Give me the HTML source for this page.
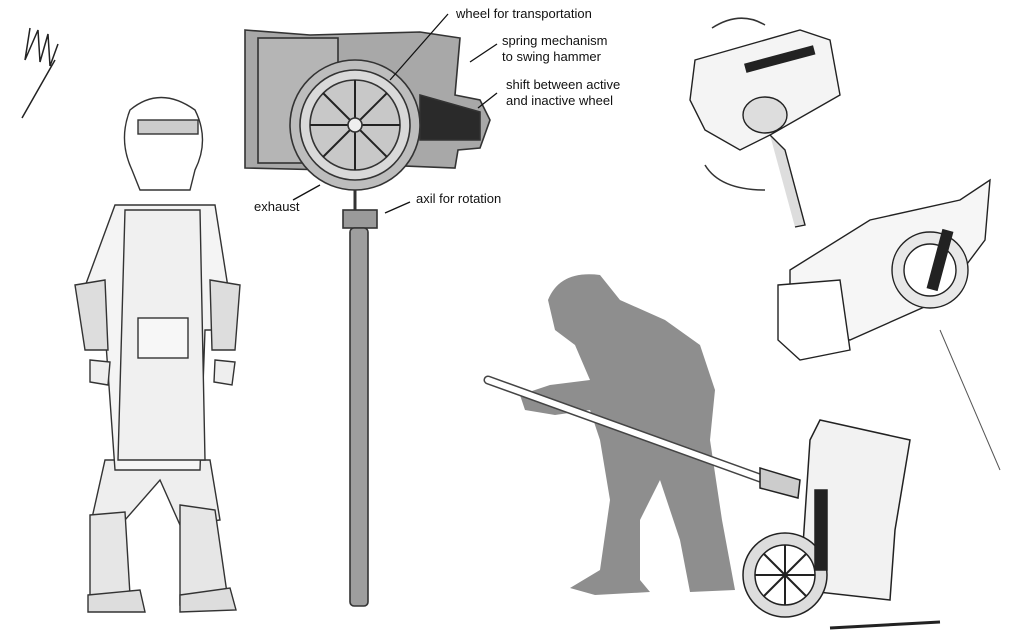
<!DOCTYPE html>
<html><head><meta charset="utf-8"><style>
html,body{margin:0;padding:0;background:#fff;}
svg{display:block;}
text{font-family:"Liberation Sans","DejaVu Sans",sans-serif;font-size:13px;fill:#111;}
</style></head><body>
<svg width="1022" height="643" viewBox="0 0 1022 643" xmlns="http://www.w3.org/2000/svg">
<rect width="1022" height="643" fill="#fff"/>
<path d="M30 28 L25 60 L38 30 L40 62 L48 34 L50 66 L58 44 M55 60 L22 118" stroke="#222" stroke-width="1.5" fill="none"/>

<g stroke="#333" stroke-width="1.4" fill="#f4f4f4">
 <path d="M105 460 L210 460 L220 520 L180 525 L160 480 L125 520 L92 518Z" fill="#eee"/>
 <path d="M130 110 Q160 85 195 110 Q210 140 195 170 L190 190 L140 190 L132 170 Q118 140 130 110Z" fill="#fff"/>
 <rect x="138" y="120" width="60" height="14" fill="#ccc"/>
 <path d="M115 205 L215 205 L230 300 L225 330 L205 330 L200 470 L115 470 L105 330 L85 330 L80 300Z"/>
 <path d="M125 210 L200 210 L205 460 L118 460Z" fill="#f0f0f0"/>
 <rect x="138" y="318" width="50" height="40" fill="#f7f7f7"/>
 <path d="M75 285 L105 280 L108 350 L85 350Z" fill="#ddd"/>
 <path d="M210 280 L240 285 L235 350 L212 350Z" fill="#ddd"/>
 <path d="M90 360 L110 362 L108 385 L90 382Z" fill="#eee"/>
 <path d="M215 360 L235 362 L232 385 L214 382Z" fill="#eee"/>
 <path d="M90 515 L125 512 L130 595 L90 610Z" fill="#e6e6e6"/>
 <path d="M180 505 L215 510 L228 600 L180 605Z" fill="#e6e6e6"/>
 <path d="M88 595 L140 590 L145 612 L88 612Z" fill="#ddd"/>
 <path d="M180 595 L230 588 L236 610 L180 612Z" fill="#ddd"/>
</g>

<g stroke="#333" stroke-width="1.6">
 <path d="M245 30 L310 35 L420 32 L460 38 L455 95 L480 100 L490 120 L480 148 L458 150 L455 168 L380 165 L330 170 L245 168 Z" fill="#a8a8a8"/>
 <rect x="258" y="38" width="80" height="125" fill="#b5b5b5"/>
 <path d="M420 95 L480 112 L480 140 L420 140Z" fill="#2a2a2a"/>
 <circle cx="355" cy="125" r="65" fill="#bdbdbd"/>
 <circle cx="355" cy="125" r="55" fill="#d9d9d9"/>
 <circle cx="355" cy="125" r="45" fill="#c8c8c8"/>
 <g stroke="#222" stroke-width="2">
  <line x1="355" y1="80" x2="355" y2="170"/><line x1="310" y1="125" x2="400" y2="125"/>
  <line x1="323" y1="93" x2="387" y2="157"/><line x1="387" y1="93" x2="323" y2="157"/>
 </g>
 <circle cx="355" cy="125" r="7" fill="#eee"/>
 <rect x="343" y="210" width="34" height="18" fill="#9a9a9a"/>
 <rect x="350" y="228" width="18" height="378" rx="4" fill="#9e9e9e"/>
</g>
<line x1="355" y1="190" x2="355" y2="210" stroke="#333" stroke-width="3"/>
<g stroke="#111" stroke-width="1.3">
 <line x1="448" y1="14" x2="390" y2="80"/>
 <line x1="497" y1="44" x2="470" y2="62"/>
 <line x1="497" y1="93" x2="478" y2="108"/>
 <line x1="293" y1="200" x2="320" y2="185"/>
 <line x1="410" y1="202" x2="385" y2="213"/>
</g>
<text x="456" y="18">wheel for transportation</text>
<text x="502" y="45">spring mechanism</text>
<text x="502" y="61">to swing hammer</text>
<text x="506" y="89">shift between active</text>
<text x="506" y="105">and inactive wheel</text>
<text x="254" y="211">exhaust</text>
<text x="416" y="203">axil for rotation</text>

<g fill="#8e8e8e">
 <path d="M548 300 Q560 270 600 275 L620 300 L665 320 L700 345 L715 390 L710 440 L722 520 L735 590 L690 592 L680 540 L660 480 L640 520 L640 580 L650 592 L595 595 L570 588 L600 570 L610 500 L600 440 L590 410 L555 415 L525 410 L520 395 L550 385 L590 380 L575 345 L555 330Z"/>
</g>
<path d="M488 380 L760 478" stroke="#444" stroke-width="9" stroke-linecap="round"/>
<path d="M488 380 L760 478" stroke="#fff" stroke-width="6" stroke-linecap="round"/>

<g stroke="#222" stroke-width="1.5">
 <path d="M820 420 L910 440 L895 530 L890 600 L800 590 L810 440Z" fill="#f2f2f2"/>
 <path d="M760 468 L800 480 L798 498 L760 488Z" fill="#ccc"/>
 <circle cx="785" cy="575" r="42" fill="#ddd"/>
 <circle cx="785" cy="575" r="30" fill="#fff"/>
 <g stroke="#222" stroke-width="2"><line x1="785" y1="545" x2="785" y2="605"/><line x1="755" y1="575" x2="815" y2="575"/><line x1="764" y1="554" x2="806" y2="596"/><line x1="806" y1="554" x2="764" y2="596"/></g>
 <rect x="815" y="490" width="12" height="80" fill="#222"/>
</g>
<path d="M830 628 L940 622" stroke="#222" stroke-width="3"/>

<g stroke="#222" stroke-width="1.4">
 <path d="M790 270 L870 220 L960 200 L990 180 L985 240 L940 300 L850 340 L790 330Z" fill="#f6f6f6"/>
 <path d="M778 285 L840 280 L850 350 L800 360 L778 340Z" fill="#fff"/>
 <circle cx="930" cy="270" r="38" fill="#e8e8e8"/>
 <circle cx="930" cy="270" r="26" fill="#fff"/>
 <rect x="935" y="230" width="10" height="60" fill="#222" transform="rotate(15 940 260)"/>
</g>
<line x1="940" y1="330" x2="1000" y2="470" stroke="#555"/>

<g stroke="#222" stroke-width="1.4">
 <path d="M695 60 L800 30 L830 40 L840 95 L770 135 L740 150 L705 130 L690 100Z" fill="#f4f4f4"/>
 <ellipse cx="765" cy="115" rx="22" ry="18" fill="#ddd"/>
 <rect x="745" y="55" width="70" height="8" fill="#222" transform="rotate(-15 780 60)"/>
</g>
<path d="M770 135 L785 150 L805 225 L795 227" stroke="#222" stroke-width="1.4" fill="#ddd"/>
<path d="M712 28 Q740 10 765 25" stroke="#333" fill="none" stroke-width="1.5"/>
<path d="M705 165 Q720 190 765 190" stroke="#333" fill="none" stroke-width="1.5"/>
</svg>
</body></html>
